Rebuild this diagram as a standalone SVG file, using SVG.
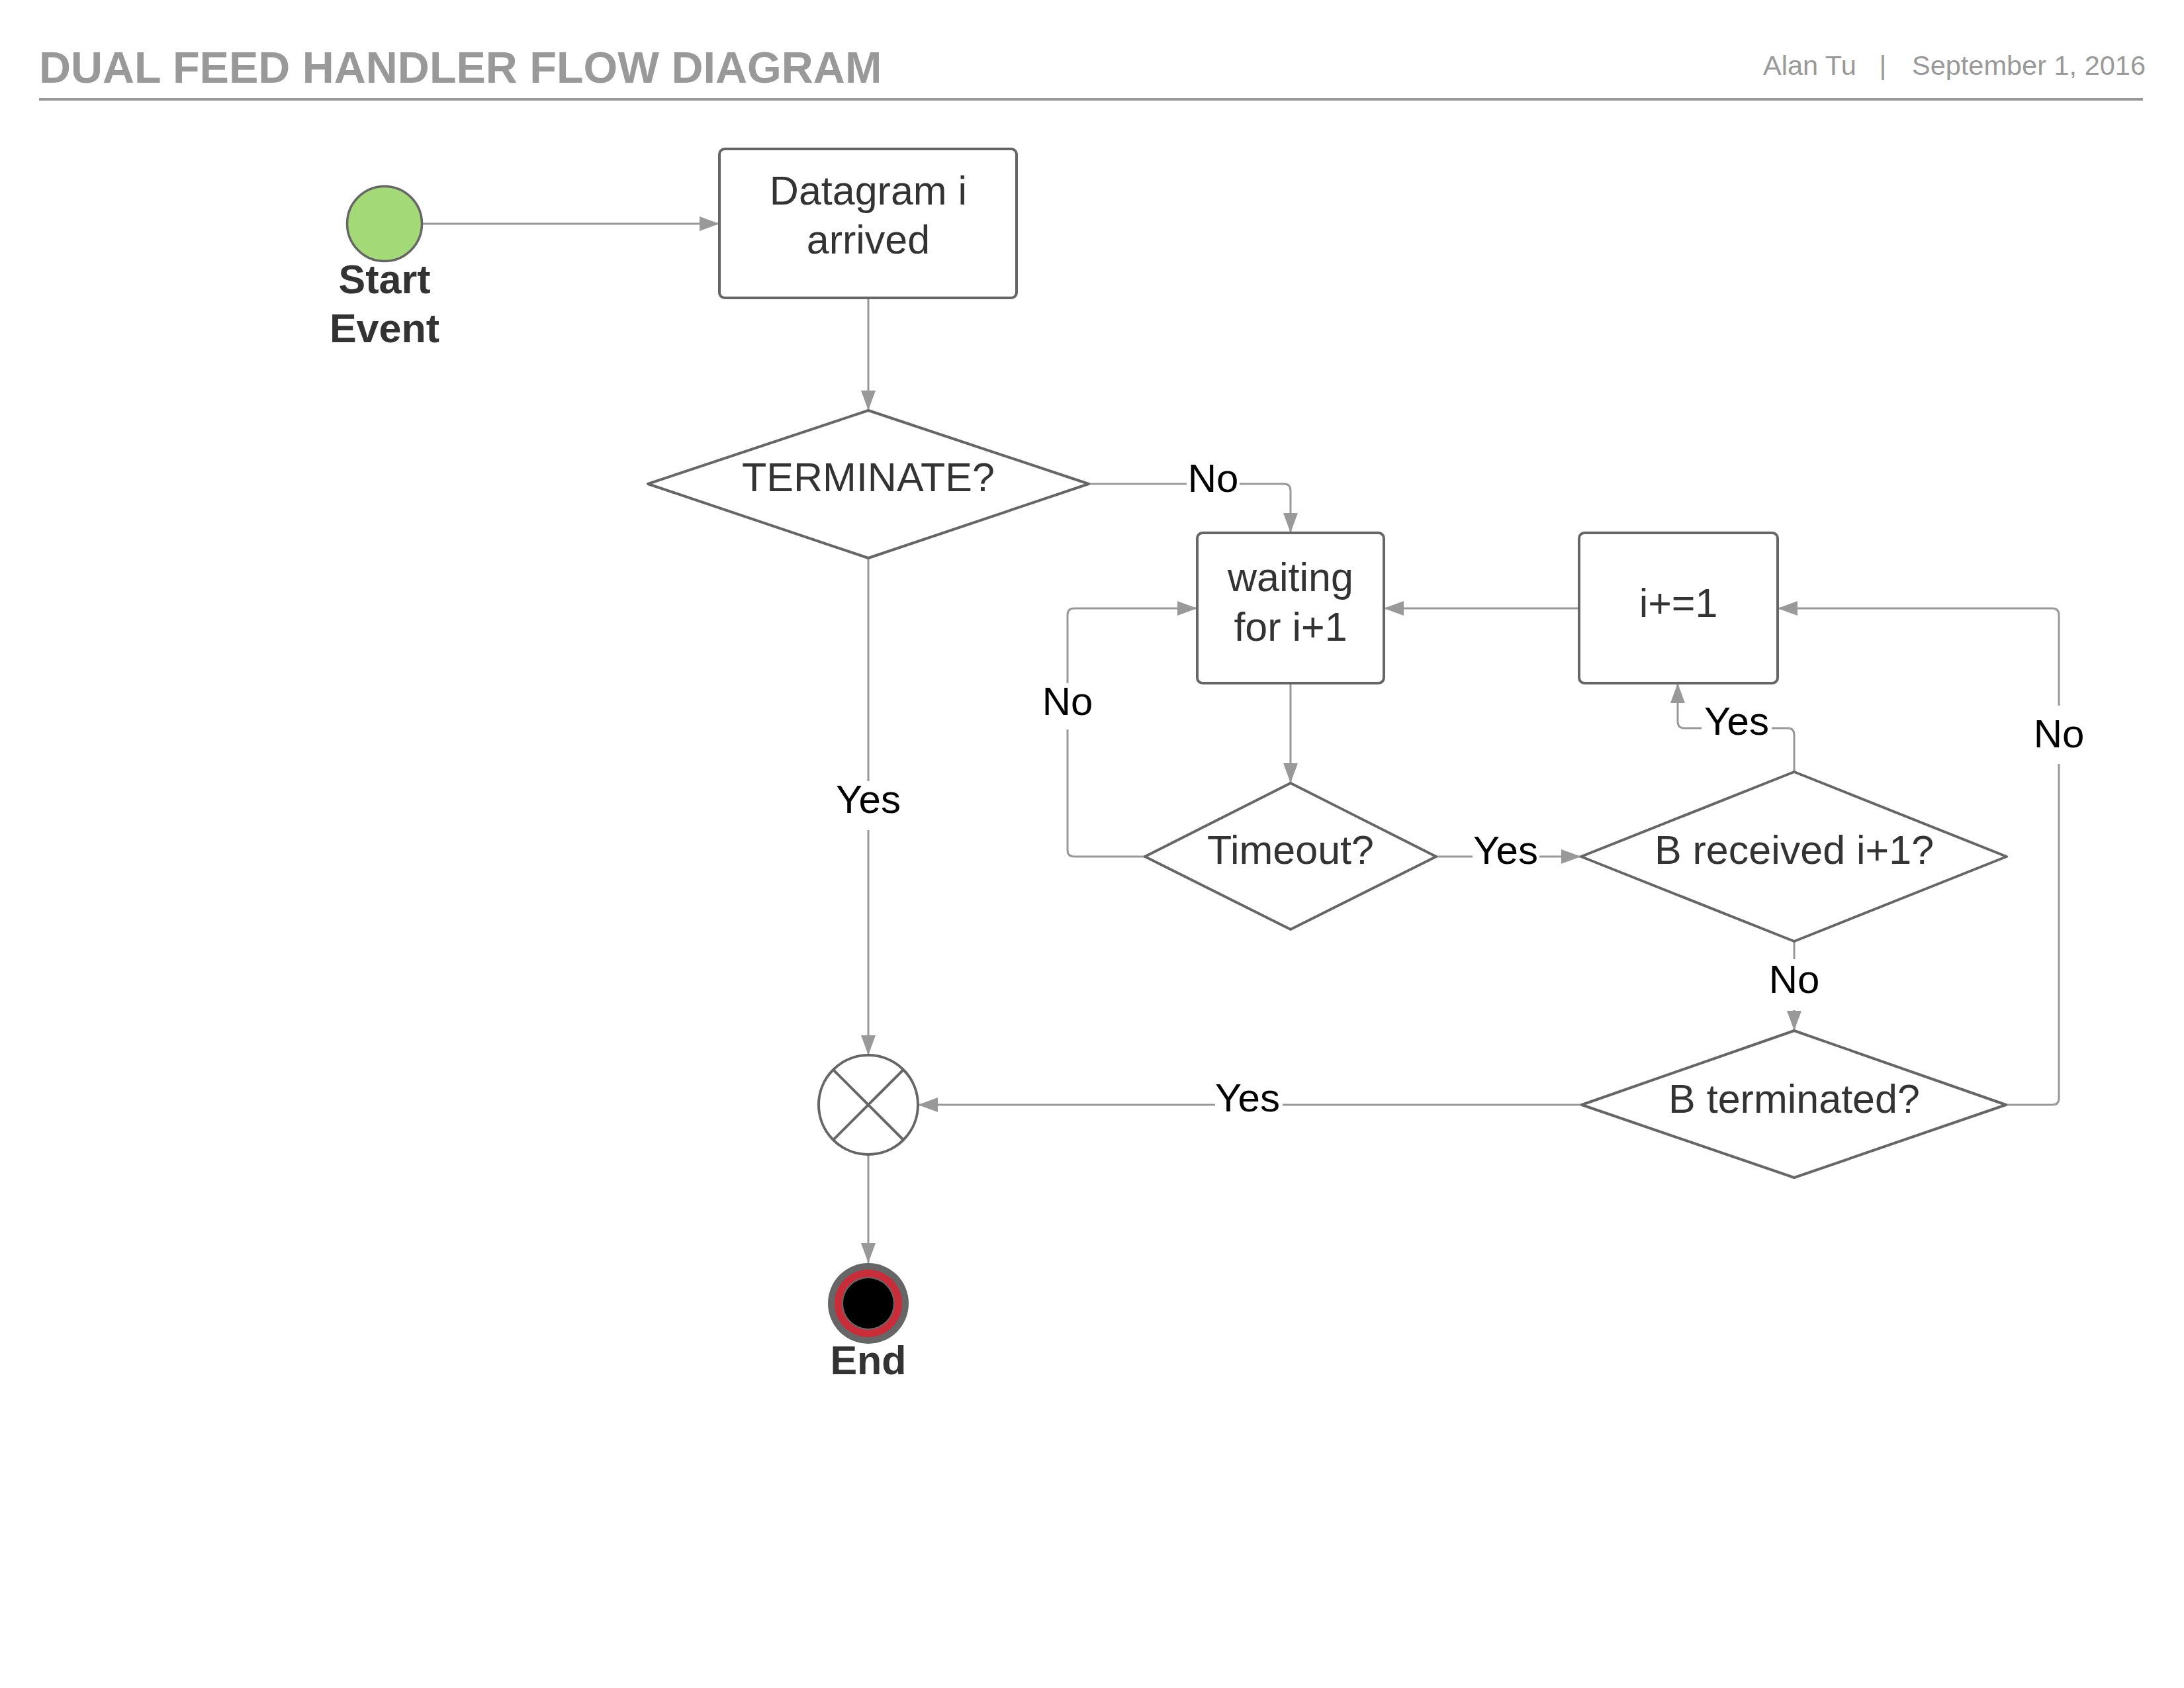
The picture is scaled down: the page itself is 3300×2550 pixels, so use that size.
<svg xmlns="http://www.w3.org/2000/svg" width="3300" height="2550" viewBox="0 0 3300 2550">
<style>
.hdr{font-family:"Liberation Sans",Arial,sans-serif;fill:#999999}
.node{fill:#ffffff;stroke:#666666;stroke-width:4;stroke-linejoin:round}
.nt{font-family:"Liberation Sans",Arial,sans-serif;font-size:61px;fill:#333333;text-anchor:middle}
.bt{font-family:"Liberation Sans",Arial,sans-serif;font-size:61px;font-weight:bold;fill:#333333;text-anchor:middle}
.conn{fill:none;stroke:#999999;stroke-width:3}
.arr{marker-end:url(#ah)}
.lbl{font-family:"Liberation Sans",Arial,sans-serif;font-size:60px;fill:#000000;text-anchor:middle}
.lb{fill:#ffffff}
</style>
<defs>
<marker id="ah" viewBox="0 0 30 22" refX="30" refY="11" markerWidth="30" markerHeight="22" orient="auto" markerUnits="userSpaceOnUse">
<path d="M0,0 L30,11 L0,22 Z" fill="#999999"/>
</marker>
</defs>
<rect width="3300" height="2550" fill="#ffffff"/>
<g id="header">
<text class="hdr" x="59" y="125" font-size="66.5" font-weight="bold">DUAL FEED HANDLER FLOW DIAGRAM</text>
<text class="hdr" x="2664" y="113" font-size="41.5">Alan Tu</text>
<text class="hdr" x="2845" y="113" font-size="41.5" text-anchor="middle">|</text>
<text class="hdr" x="2889" y="113" font-size="41.5">September 1, 2016</text>
<line x1="59" y1="150" x2="3238" y2="150" stroke="#999999" stroke-width="4"/>
</g>
<g id="connectors">
<path class="conn arr" d="M638,338 H1087"/>
<path class="conn arr" d="M1312,450 V620"/>
<path class="conn arr" d="M1645,731 H1940 Q1950,731 1950,741 V805"/>
<path class="conn arr" d="M1312,843 V1594"/>
<path class="conn arr" d="M1950,1032 V1183"/>
<path class="conn arr" d="M1730,1294 H1623 Q1613,1294 1613,1284 V929 Q1613,919 1623,919 H1809"/>
<path class="conn arr" d="M2170,1294 H2389"/>
<path class="conn arr" d="M2386,919 H2091"/>
<path class="conn arr" d="M2711,1166 V1110 Q2711,1100 2701,1100 H2545 Q2535,1100 2535,1090 V1032"/>
<path class="conn arr" d="M2711,1422 V1557"/>
<path class="conn arr" d="M3031,1669 H3101 Q3111,1669 3111,1659 V929 Q3111,919 3101,919 H2686"/>
<path class="conn arr" d="M2390,1669 H1387"/>
<path class="conn arr" d="M1312,1744 V1908"/>
<rect class="lb" x="1793" y="700" width="80" height="60"/>
<text class="lbl" x="1833" y="743">No</text>
<rect class="lb" x="1260" y="1180" width="104" height="74"/>
<text class="lbl" x="1312" y="1228">Yes</text>
<rect class="lb" x="1573" y="1032" width="80" height="70"/>
<text class="lbl" x="1613" y="1080">No</text>
<rect class="lb" x="2225" y="1262" width="101" height="60"/>
<text class="lbl" x="2275" y="1305">Yes</text>
<rect class="lb" x="2571" y="1066" width="106" height="60"/>
<text class="lbl" x="2624" y="1110">Yes</text>
<rect class="lb" x="2671" y="1449" width="80" height="77"/>
<text class="lbl" x="2711" y="1500">No</text>
<rect class="lb" x="3071" y="1066" width="80" height="88"/>
<text class="lbl" x="3111" y="1129">No</text>
<rect class="lb" x="1836" y="1636" width="102" height="60"/>
<text class="lbl" x="1885" y="1679">Yes</text>
</g>
<g id="start">
<circle cx="581" cy="338" r="56.5" fill="#a3d977" stroke="#666666" stroke-width="3.5"/>
<text class="bt" x="581" y="443">Start</text>
<text class="bt" x="581" y="517">Event</text>
</g>
<g id="datagram">
<rect class="node" x="1087" y="225" width="449" height="225" rx="8"/>
<text class="nt" x="1312" y="309">Datagram i</text>
<text class="nt" x="1312" y="383">arrived</text>
</g>
<g id="terminate">
<polygon class="node" points="979,731 1312,620 1645,731 1312,843"/>
<text class="nt" x="1312" y="742">TERMINATE?</text>
</g>
<g id="waiting">
<rect class="node" x="1809" y="805" width="282" height="227" rx="8"/>
<text class="nt" x="1950" y="893">waiting</text>
<text class="nt" x="1950" y="968">for i+1</text>
</g>
<g id="increment">
<rect class="node" x="2386" y="805" width="300" height="227" rx="8"/>
<text class="nt" x="2536" y="932">i+=1</text>
</g>
<g id="timeout">
<polygon class="node" points="1730,1294 1950,1183 2170,1294 1950,1404"/>
<text class="nt" x="1950" y="1305">Timeout?</text>
</g>
<g id="breceived">
<polygon class="node" points="2389,1294 2711,1166 3032,1294 2711,1422"/>
<text class="nt" x="2711" y="1305">B received i+1?</text>
</g>
<g id="bterminated">
<polygon class="node" points="2390,1669 2711,1557 3031,1669 2711,1779"/>
<text class="nt" x="2711" y="1681">B terminated?</text>
</g>
<g id="gateway">
<circle cx="1312" cy="1669" r="75" fill="#ffffff" stroke="#666666" stroke-width="4"/>
<line x1="1259" y1="1616" x2="1365" y2="1722" stroke="#666666" stroke-width="4"/>
<line x1="1365" y1="1616" x2="1259" y2="1722" stroke="#666666" stroke-width="4"/>
</g>
<g id="end">
<circle cx="1312" cy="1969" r="61" fill="#666666"/>
<circle cx="1312" cy="1969" r="51" fill="#c92d39"/>
<circle cx="1312" cy="1969" r="40" fill="#666666"/>
<circle cx="1312" cy="1969" r="38" fill="#000000"/>
<text class="bt" x="1312" y="2076">End</text>
</g>
</svg>
